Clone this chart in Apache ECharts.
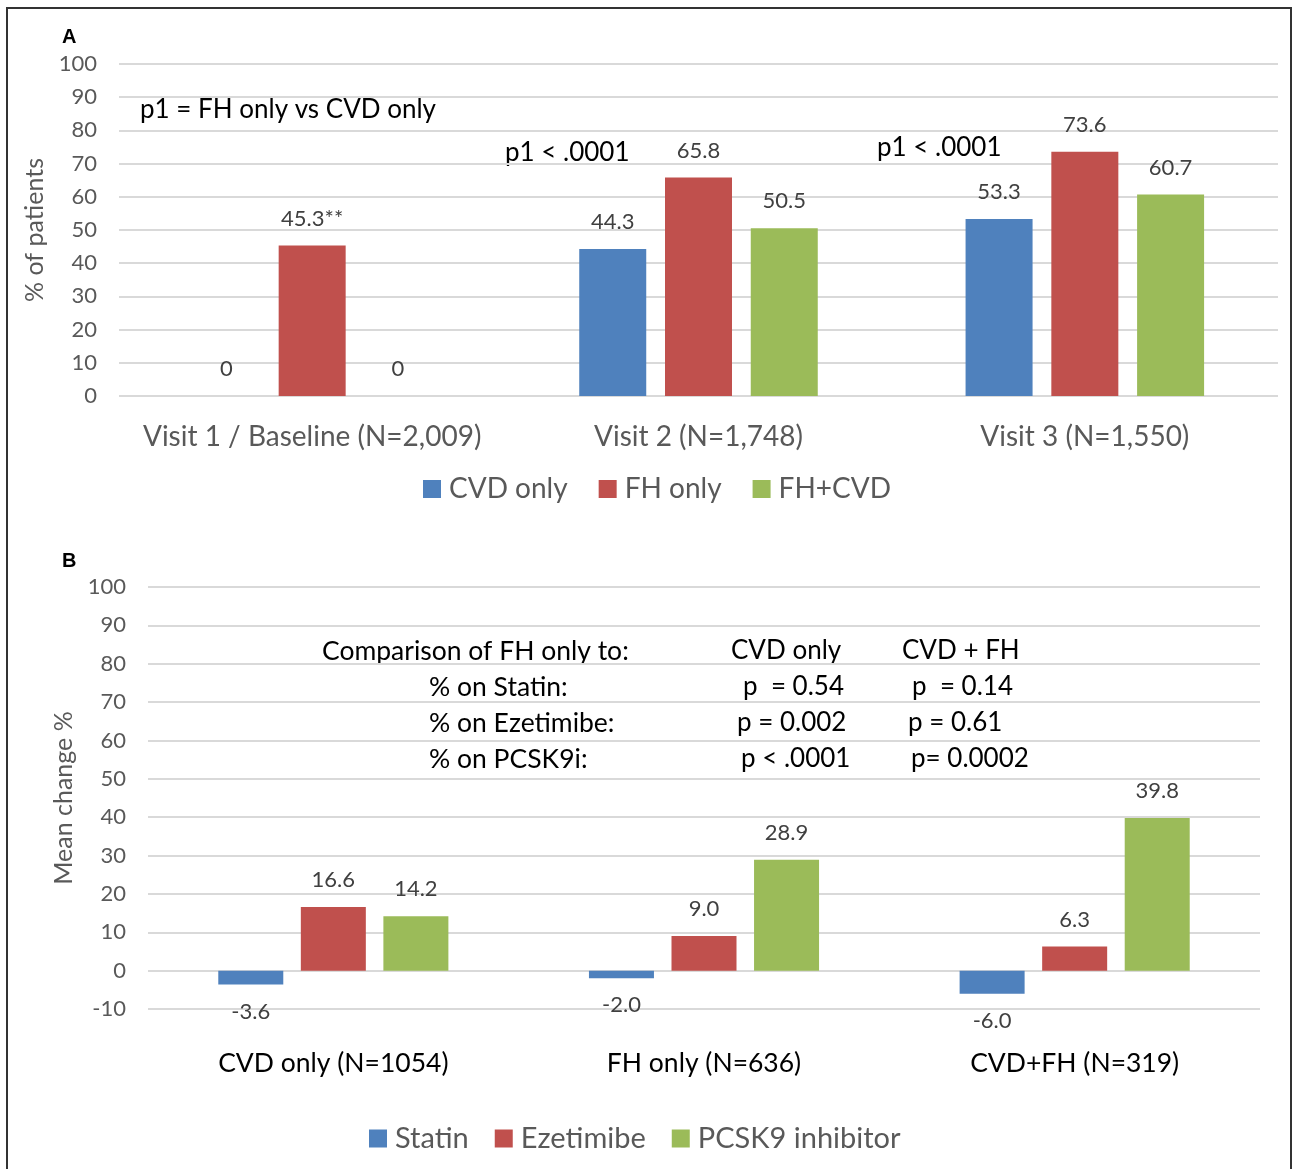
<!DOCTYPE html>
<html><head><meta charset="utf-8">
<script src="https://cdn.jsdelivr.net/npm/echarts@6/dist/echarts.min.js"></script>
<style>html,body{margin:0;padding:0;background:#fff}#c{width:1293px;height:1169px}</style>
</head><body><div id="c"></div>
<script>
// ---- Panel A data ----
const visitCategories = ['Visit 1 / Baseline (N=2,009)', 'Visit 2 (N=1,748)', 'Visit 3 (N=1,550)'];
const cvdOnly = [0, 44.3, 53.3];
const fhOnly = [45.3, 65.8, 73.6];
const fhCvd = [0, 50.5, 60.7];
const fhOnlySuffix = ['**', '', ''];
const seriesNamesA = ['CVD only', 'FH only', 'FH+CVD'];
// ---- Panel B data ----
const groupCategories = ['CVD only (N=1054)', 'FH only (N=636)', 'CVD+FH (N=319)'];
const statin = [-3.6, -2.0, -6.0];
const ezetimibe = [16.6, 9.0, 6.3];
const pcsk9 = [14.2, 28.9, 39.8];
const seriesNamesB = ['Statin', 'Ezetimibe', 'PCSK9 inhibitor'];
// axis ranges
const yA = {min: 0, max: 100, interval: 10};
const yB = {min: -10, max: 100, interval: 10};
// annotation texts
const p1Note = 'p1 = FH only vs CVD only';
const p1Visit2 = 'p1 < .0001';
const p1Visit3 = 'p1 < .0001';
const compRows = [
  ['Comparison of FH only to:', 'CVD only', 'CVD + FH'],
  ['% on Statin:', 'p  = 0.54', 'p  = 0.14'],
  ['% on Ezetimibe:', 'p = 0.002', 'p = 0.61'],
  ['% on PCSK9i:', 'p < .0001', 'p= 0.0002']
];

const FONT = 'Lato, "Open Sans", sans-serif';
const COLORS = ['#4F81BD', '#C0504D', '#9BBB59'];
const gridLine = {show: true, lineStyle: {color: '#d9d9d9', width: 2}};

function labelA(suffix) {
  return {
    show: true, position: 'top', distance: 16, color: '#404040', fontSize: 22, fontFamily: FONT,
    formatter: p => (p.value === 0 ? '0' : p.value.toFixed(1)) + (suffix ? suffix[p.dataIndex] : '')
  };
}
function dataB(arr) {
  return arr.map(v => ({value: v, label: {position: v < 0 ? 'bottom' : 'top'}}));
}
const labelB = {show: true, distance: 16, color: '#404040', fontSize: 22, fontFamily: FONT,
  formatter: p => p.value.toFixed(1)};

const chart = echarts.init(document.getElementById('c'), null, {renderer: 'canvas'});

const textEls = [];
function addText(t, x, y, size, color, weight, family) {
  textEls.push({type: 'text', x: x, y: y, style: {text: t, fill: color || '#000', font: (weight || 'normal') + ' ' + size + 'px ' + (family || FONT), verticalAlign: 'middle', align: 'left'}});
}
addText('A', 62, 37, 20, '#000', 'bold', '"Liberation Sans", Arial, sans-serif');
addText('B', 62, 561, 20, '#000', 'bold', '"Liberation Sans", Arial, sans-serif');
addText(p1Note, 140, 110, 26);
addText(p1Visit2, 505, 153, 26);
addText(p1Visit3, 877, 148, 26);
const rowY = [651, 687, 723, 759];
const col0 = [322, 429, 429, 429];
const col1 = [731, 743, 737, 741];
const col2 = [902, 912, 908, 911];
compRows.forEach((r, i) => {
  addText(r[0], col0[i], rowY[i], i === 0 || col0[i] ? 26.5 : 26);
  addText(r[1], col1[i], rowY[i], 26);
  addText(r[2], col2[i], rowY[i], 26);
});

const legendText = size => ({fontSize: size, color: '#595959', fontFamily: FONT, padding: [0, 0, 0, 3]});

chart.setOption({
  animation: false,
  backgroundColor: '#fff',
  color: COLORS,
  textStyle: {fontFamily: FONT},
  grid: [
    {left: 119, top: 64, width: 1159, height: 332},
    {left: 148, top: 587, width: 1112, height: 422}
  ],
  legend: [
    {data: seriesNamesA, top: 470, left: 418, icon: 'rect', itemWidth: 18, itemHeight: 18, itemGap: 31,
      textStyle: legendText(28)},
    {data: seriesNamesB, top: 1119, left: 364, icon: 'rect', itemWidth: 18, itemHeight: 18, itemGap: 26,
      textStyle: legendText(29)}
  ],
  xAxis: [
    {type: 'category', gridIndex: 0, data: visitCategories, axisLine: {show: false}, axisTick: {show: false},
      axisLabel: {interval: 0, fontSize: 28, color: '#595959', margin: 27, fontFamily: FONT}},
    {type: 'category', gridIndex: 1, data: groupCategories, axisLine: {show: false}, axisTick: {show: false},
      axisLabel: {interval: 0, fontSize: 26.5, color: '#000', margin: 41, fontFamily: FONT}}
  ],
  yAxis: [
    {type: 'value', gridIndex: 0, min: yA.min, max: yA.max, interval: yA.interval,
      axisLine: {show: false}, axisTick: {show: false}, splitLine: gridLine,
      axisLabel: {fontSize: 22, color: '#595959', margin: 22, fontFamily: FONT},
      name: '% of patients', nameLocation: 'middle', nameGap: 70, nameRotate: 90,
      nameTextStyle: {fontSize: 25, color: '#595959', fontFamily: FONT}},
    {type: 'value', gridIndex: 1, min: yB.min, max: yB.max, interval: yB.interval,
      axisLine: {show: false}, axisTick: {show: false}, splitLine: gridLine,
      axisLabel: {fontSize: 22, color: '#595959', margin: 22, fontFamily: FONT},
      name: 'Mean change %', nameLocation: 'middle', nameGap: 70, nameRotate: 90,
      nameTextStyle: {fontSize: 25, color: '#595959', fontFamily: FONT}}
  ],
  series: [
    {name: seriesNamesA[0], type: 'bar', xAxisIndex: 0, yAxisIndex: 0, data: cvdOnly, barWidth: 67, barGap: '28%', label: labelA(null), itemStyle: {color: COLORS[0]}},
    {name: seriesNamesA[1], type: 'bar', xAxisIndex: 0, yAxisIndex: 0, data: fhOnly, barWidth: 67, barGap: '28%', label: labelA(fhOnlySuffix), itemStyle: {color: COLORS[1]}},
    {name: seriesNamesA[2], type: 'bar', xAxisIndex: 0, yAxisIndex: 0, data: fhCvd, barWidth: 67, barGap: '28%', label: labelA(null), itemStyle: {color: COLORS[2]}},
    {name: seriesNamesB[0], type: 'bar', xAxisIndex: 1, yAxisIndex: 1, data: dataB(statin), barWidth: 65, barGap: '27%', label: labelB, itemStyle: {color: COLORS[0]}},
    {name: seriesNamesB[1], type: 'bar', xAxisIndex: 1, yAxisIndex: 1, data: dataB(ezetimibe), barWidth: 65, barGap: '27%', label: labelB, itemStyle: {color: COLORS[1]}},
    {name: seriesNamesB[2], type: 'bar', xAxisIndex: 1, yAxisIndex: 1, data: dataB(pcsk9), barWidth: 65, barGap: '27%', label: labelB, itemStyle: {color: COLORS[2]}}
  ],
  graphic: [
    {type: 'rect', shape: {x: 7, y: 8, width: 1284, height: 1175}, style: {fill: 'none', stroke: '#333', lineWidth: 2}, silent: true}
  ].concat(textEls)
});
</script>
</body></html>
